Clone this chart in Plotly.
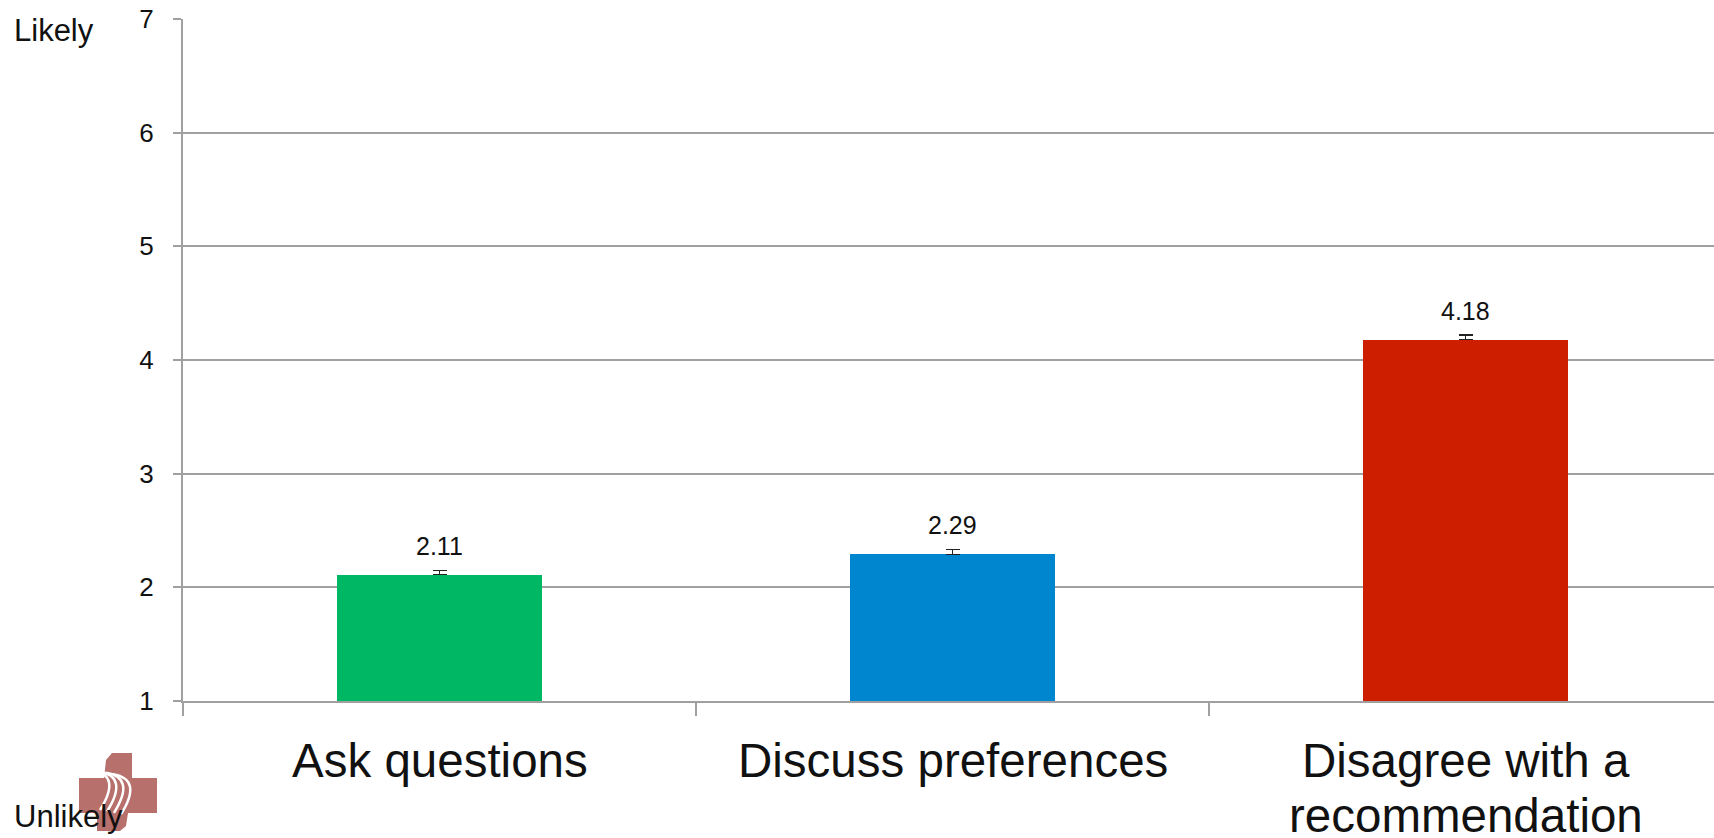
import plotly.graph_objects as go

categories = ["Ask questions", "Discuss preferences", "Disagree with a<br>recommendation"]
values = [2.11, 2.29, 4.18]
errors = [0.04, 0.04, 0.04]
colors = ["#00B864", "#0086CE", "#CD1F00"]
value_labels = ["2.11", "2.29", "4.18"]
y_ticks = [1, 2, 3, 4, 5, 6, 7]

W, H = 1714, 838
ML, MT, MB = 183, 19, 137
PW, PH = W - ML, H - MT - MB

FONT = "Liberation Sans, Arial, sans-serif"

fig = go.Figure()
fig.add_trace(go.Bar(
    x=categories, y=values,
    marker=dict(color=colors, line=dict(width=0)),
    width=0.40,
    error_y=dict(type="data", symmetric=False, array=errors, arrayminus=[0] * len(errors),
                 color="#222222", thickness=1.2, width=7, visible=True),
    hoverinfo="skip",
))

def px(x):
    return (x - ML) / PW

def py(y):
    return (H - MB - y) / PH

annotations = []
for c, v, lab in zip(categories, values, value_labels):
    annotations.append(dict(x=c, y=v, text=lab, showarrow=False, xref="x", yref="y",
                            yanchor="bottom", yshift=13,
                            font=dict(family=FONT, size=25, color="#111111")))

# category labels, one annotation per line for tighter line spacing
LINE0, LINE_STEP = 760.5, 55
for c in categories:
    for k, line in enumerate(c.split("<br>")):
        annotations.append(dict(x=c, y=py(LINE0 + k * LINE_STEP), xref="x", yref="paper", text=line,
                                showarrow=False, xanchor="center", yanchor="middle",
                                font=dict(family=FONT, size=47.5, color="#111111")))

annotations.append(dict(x=px(12), y=py(31), xref="paper", yref="paper", text="Likely",
                        showarrow=False, xanchor="left", yanchor="middle",
                        font=dict(family=FONT, size=31, color="#111111")))

shapes = []
logo_col = "#B7706C"
def path_px(points):
    s = ""
    for k, (x, y) in enumerate(points):
        s += ("M" if k == 0 else "L") + f"{px(x):.5f},{py(y):.5f} "
    return s + "Z"

shapes.append(dict(type="path", xref="paper", yref="paper", line=dict(width=0), fillcolor=logo_col, layer="above",
                   path=path_px([(79, 778), (104, 778), (106, 760), (112, 753), (132, 753), (132, 778), (157, 778),
                                 (157, 813), (128, 813), (126, 826), (120, 831), (97, 831), (97, 813), (79, 813)])))
for off in [0, 7, 14, 21]:
    x0, y0 = 92 + off, 770 + off * 0.2
    shapes.append(dict(type="path", xref="paper", yref="paper", fillcolor="rgba(0,0,0,0)",
                       line=dict(color="white", width=2.5), layer="above",
                       path=f"M{px(x0):.5f},{py(y0):.5f} Q{px(x0+30):.5f},{py(y0+5):.5f} {px(x0+8):.5f},{py(y0+40):.5f}"))

annotations.append(dict(x=px(12), y=py(816), xref="paper", yref="paper", text="Unlikely",
                        showarrow=False, xanchor="left", yanchor="middle",
                        font=dict(family=FONT, size=31, color="#111111")))

fig.update_layout(
    width=W, height=H,
    margin=dict(l=ML, r=0, t=MT, b=MB, pad=0, autoexpand=False),
    paper_bgcolor="white", plot_bgcolor="white",
    showlegend=False,
    bargap=0,
    annotations=annotations,
    shapes=shapes,
    xaxis=dict(
        type="category", automargin=False,
        range=[-0.5, -0.5 + PW / 513.0],
        tickson="boundaries", ticks="outside", ticklen=13, tickwidth=1.5, tickcolor="#A0A0A0",
        showticklabels=False,
        showgrid=False, zeroline=False, showline=True, linecolor="#A0A0A0", linewidth=2,
        fixedrange=True,
    ),
    yaxis=dict(
        range=[1, 7], tickmode="array", tickvals=y_ticks, automargin=False,
        ticks="outside", ticklen=8, tickwidth=1.5, tickcolor="#A0A0A0",
        showgrid=True, gridcolor="#A0A0A0", gridwidth=1.5,
        zeroline=False, showline=True, linecolor="#A0A0A0", linewidth=2,
        tickfont=dict(family=FONT, size=26, color="#111111"),
        ticklabelstandoff=14, fixedrange=True,
    ),
)

fig.write_html("out.html", config={"displayModeBar": False})
